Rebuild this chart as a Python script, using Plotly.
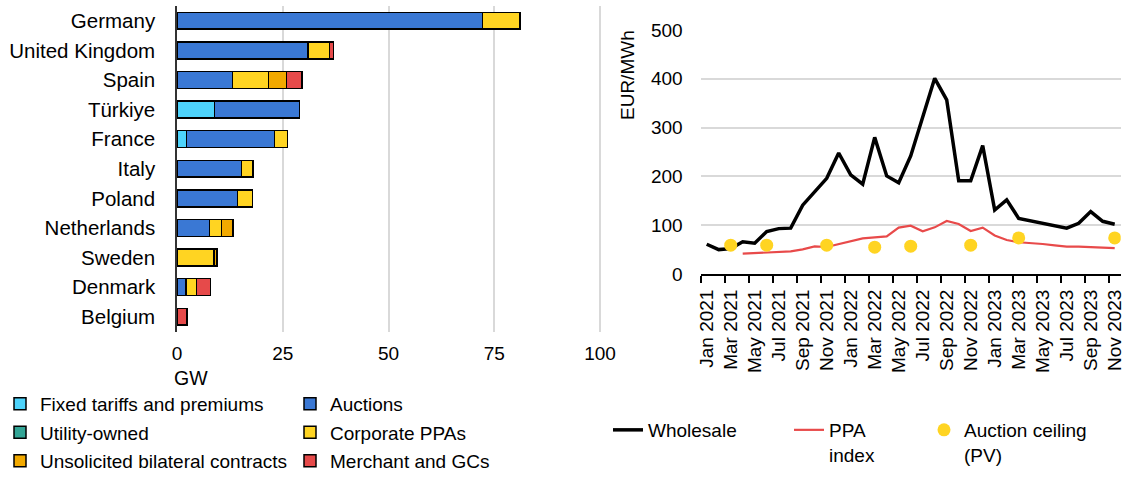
import plotly.graph_objects as go

# ---------------- Left chart data (GW) ----------------
countries = ["Germany", "United Kingdom", "Spain", "Türkiye", "France", "Italy",
             "Poland", "Netherlands", "Sweden", "Denmark", "Belgium"]
fixed_tariffs = [None, None, None, 8.9, 2.2, None, None, None, None, None, None]
auctions = [72.2, 31.0, 13.1, 20.1, 20.9, 15.2, 14.3, 7.7, None, 2.1, None]
utility_owned = [None, None, None, None, None, None, None, None, None, None, None]
corporate_ppas = [8.9, 5.1, 8.5, None, 3.0, 2.8, 3.5, 2.8, 8.7, 2.5, None]
unsolicited = [None, None, 4.3, None, None, None, None, 2.7, 0.7, None, None]
merchant = [None, 0.9, 3.6, None, None, None, None, None, None, 3.3, 2.4]
gw_ticks = [0, 25, 50, 75, 100]

# ---------------- Right chart data (EUR/MWh) ----------------
months = ["Jan 2021", "Feb 2021", "Mar 2021", "Apr 2021", "May 2021", "Jun 2021",
          "Jul 2021", "Aug 2021", "Sep 2021", "Oct 2021", "Nov 2021", "Dec 2021",
          "Jan 2022", "Feb 2022", "Mar 2022", "Apr 2022", "May 2022", "Jun 2022",
          "Jul 2022", "Aug 2022", "Sep 2022", "Oct 2022", "Nov 2022", "Dec 2022",
          "Jan 2023", "Feb 2023", "Mar 2023", "Apr 2023", "May 2023", "Jun 2023",
          "Jul 2023", "Aug 2023", "Sep 2023", "Oct 2023", "Nov 2023"]
wholesale = [61, 50, 52, 66, 63, 87, 93, 94, 141, 169, 196, 248,
             203, 184, 280, 201, 187, 242, 322, 401, 357, 191, 191, 263,
             131, 152, 114, 109, 104, 99, 94, 104, 128, 108, 102]
ppa_index = [None, None, None, 41.6, 43, 45, 46.5, 46.5, 50.6, 56.7, 55.3, 61.5,
             67, 73, 75, 77, 95, 99, 87.5, 95.6, 108.6, 102.5, 88, 95,
             79, 69.7, 65, 63.5, 61.5, 58.7, 56, 56, 55, 54, 53]
auction_months = ["Mar 2021", "Jun 2021", "Nov 2021", "Mar 2022", "Jun 2022",
                  "Nov 2022", "Mar 2023", "Nov 2023"]
auction_ceiling = [59, 59, 59, 55, 57, 59, 74, 74]
price_ticks = [0, 100, 200, 300, 400, 500]

FONT = "Liberation Sans, Arial, sans-serif"
W, H = 1130, 480

fig = go.Figure()

bar_series = [
    ("Fixed tariffs and premiums", fixed_tariffs, "#4dd3fb", "legend"),
    ("Auctions", auctions, "#3a78d4", "legend2"),
    ("Utility-owned", utility_owned, "#33a596", "legend"),
    ("Corporate PPAs", corporate_ppas, "#ffd422", "legend2"),
    ("Unsolicited bilateral contracts", unsolicited, "#f2a900", "legend"),
    ("Merchant and GCs", merchant, "#e64a4a", "legend2"),
]
for name, vals, color, lg in bar_series:
    fig.add_trace(go.Bar(
        y=countries, x=vals, orientation="h", name=name, legendgroup=name,
        marker=dict(color=color, line=dict(color="black", width=1.5)),
        xaxis="x", yaxis="y", legend=lg, showlegend=True,
    ))

fig.add_trace(go.Scatter(
    x=months, y=wholesale, mode="lines", name="Wholesale",
    line=dict(color="black", width=3.5), xaxis="x2", yaxis="y2", legend="legend3",
))
fig.add_trace(go.Scatter(
    x=months, y=ppa_index, mode="lines", name="PPA<br>index",
    line=dict(color="#e84a4a", width=2.2), xaxis="x2", yaxis="y2", legend="legend4",
))
fig.add_trace(go.Scatter(
    x=auction_months, y=auction_ceiling, mode="markers", name="Auction ceiling<br>(PV)",
    marker=dict(color="#ffd422", size=13), xaxis="x2", yaxis="y2", legend="legend5",
))

def px_x(p):
    return p / W

def px_y(p):
    return (H - p) / H

legend_common = dict(orientation="v", bgcolor="rgba(0,0,0,0)", font=dict(size=19, family=FONT, color="black"),
                     xanchor="left", yanchor="top", traceorder="grouped", tracegroupgap=0.8)

fig.update_layout(
    width=W, height=H,
    margin=dict(l=0, r=0, t=0, b=0, autoexpand=False),
    paper_bgcolor="white", plot_bgcolor="white",
    font=dict(family=FONT, size=19, color="black"),
    barmode="stack", bargap=0.43,
    xaxis=dict(domain=[px_x(177), px_x(601.7)], anchor="y", range=[0, 100.4], automargin=False,
               tickvals=gw_ticks, showgrid=True, gridcolor="#d9d9d9", gridwidth=1.5,
               zeroline=False, showline=False, ticks="", ticklabelstandoff=8),
    yaxis=dict(domain=[px_y(331.5), px_y(6)], anchor="x", autorange="reversed", automargin=False,
               showline=True, linecolor="#333333", linewidth=1.5, ticks="",
               showgrid=False, ticklabelstandoff=16, tickfont=dict(size=20.5)),
    xaxis2=dict(domain=[px_x(700.7), px_x(1120.7)], anchor="y2", type="category", automargin=False,
                categoryorder="array", categoryarray=months, range=[-0.5, 34.5],
                tickmode="linear", tick0=0, dtick=2, tickson="boundaries",
                ticks="outside", ticklen=7, tickwidth=2, tickcolor="black",
                showline=True, linecolor="black", linewidth=2, tickangle=-90,
                showgrid=False, ticklabelstandoff=6),
    yaxis2=dict(domain=[px_y(274), px_y(30)], anchor="x2", range=[0, 500], automargin=False,
                tickvals=price_ticks, showgrid=True, gridcolor="#d9d9d9", gridwidth=1.5,
                showline=False, zeroline=False, ticks="", ticklabelstandoff=17),
    legend=dict(x=px_x(0), y=px_y(385), **legend_common),
    legend2=dict(x=px_x(290), y=px_y(385), **legend_common),
    legend3=dict(x=px_x(608), y=px_y(411), valign="top", **legend_common),
    legend4=dict(x=px_x(789), y=px_y(411), valign="top", **legend_common),
    legend5=dict(x=px_x(924), y=px_y(411), valign="top", **legend_common),
    annotations=[
        dict(text="GW", x=px_x(172), y=px_y(378), xref="paper", yref="paper",
             xanchor="left", yanchor="middle", showarrow=False, font=dict(size=19.5)),
        dict(text="EUR/MWh", x=px_x(627), y=px_y(75), xref="paper", yref="paper",
             xanchor="center", yanchor="middle", textangle=-90, showarrow=False,
             font=dict(size=19)),
    ],
)

fig.write_html("out.html", config={"displayModeBar": False},
               post_script="document.body.style.margin='0';")
